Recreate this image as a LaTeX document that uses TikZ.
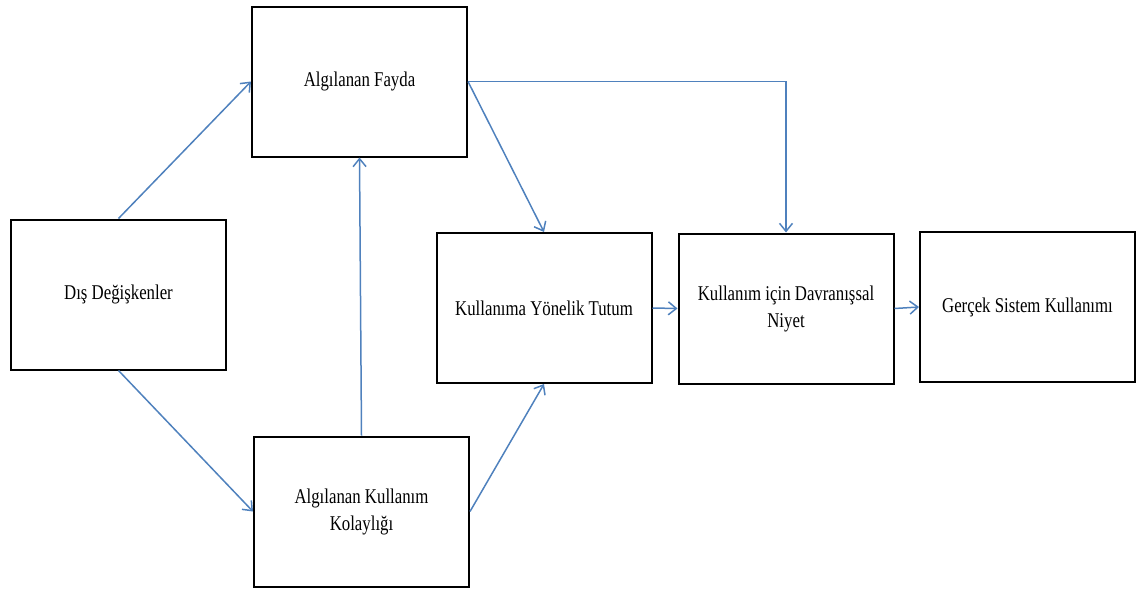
\documentclass[tikz,border=0pt]{standalone}
\usepackage{fontspec}
\setmainfont{Liberation Serif}[FakeStretch=0.8]
\usetikzlibrary{arrows.meta}
\definecolor{linkblue}{RGB}{79,129,189}
\begin{document}
\begin{tikzpicture}[x=1pt,y=-1pt,
  box/.style={draw=black, line width=2pt, fill=white, minimum width=215pt,
    minimum height=150pt, align=center, inner sep=0pt,
    font=\fontsize{21}{27}\selectfont},
  link/.style={draw=linkblue, line width=1.5pt,
    -{Straight Barb[length=8pt,width=13pt,line width=1.5pt]}}]
\useasboundingbox (0,0) rectangle (1138,590);

\node[box] (af)  at (359.5, 81.5)  {Algılanan Fayda};
\node[box] (dd)  at (118.5, 294.5) {Dış Değişkenler};
\node[box] (akk) at (361.5, 511.5) {Algılanan Kullanım\\Kolaylığı};
\node[box] (kyt) at (544, 308)     {Kullanıma Yönelik Tutum};
\node[box] (kdn) at (786, 308.5)   {Kullanım için Davranışsal\\Niyet};
\node[box] (gsk) at (1027.5, 307)  {Gerçek Sistem Kullanımı};

\draw[link] (dd.north) -- (af.west);
\draw[link] (dd.south) -- (akk.west);
\draw[link] (akk.north) -- (af.south);
\draw[link] (af.east) -- (kyt.north);
\draw[link] (akk.east) -- (kyt.south);
\draw[link] (af.east) -| (kdn.north);
\draw[link] (kyt.east) -- (kdn.west);
\draw[link] (kdn.east) -- (gsk.west);
\end{tikzpicture}
\end{document}
